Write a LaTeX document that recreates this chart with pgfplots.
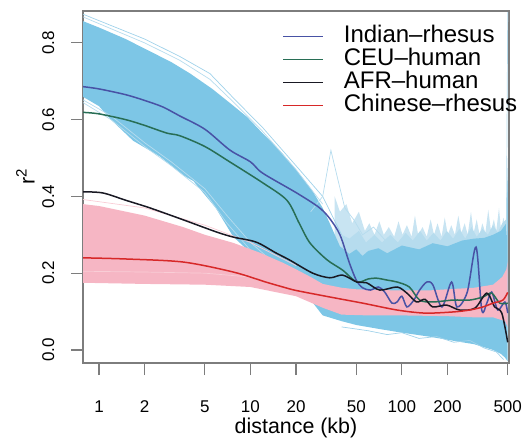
\documentclass[border=0pt]{standalone}
\usepackage{fontspec}
\setmainfont{Liberation Sans}
\usepackage{pgfplots}
\pgfplotsset{compat=1.18}
\definecolor{skyb}{RGB}{125,198,230}
\definecolor{skyl}{RGB}{182,220,238}
\definecolor{skyx}{RGB}{200,228,242}
\definecolor{skym}{RGB}{160,210,234}
\definecolor{pinkf}{RGB}{246,182,196}
\definecolor{pinkl}{RGB}{249,205,214}
\definecolor{indian}{RGB}{72,82,165}
\definecolor{ceu}{RGB}{40,110,85}
\definecolor{afr}{RGB}{25,25,35}
\definecolor{chin}{RGB}{215,40,40}
\definecolor{frame}{RGB}{125,125,125}
\begin{document}
\begin{tikzpicture}
\useasboundingbox (-41.5pt,-37pt) rectangle (219.5pt,181.5pt);
\begin{axis}[
 at={(0,0)}, anchor=south west,
 scale only axis, width=213pt, height=176pt,
 xmode=log, xmin=0.784, xmax=510, ymin=-0.034, ymax=0.883,
 xtick={1,2,5,10,20,50,100,200,500},
 xticklabels={1,2,5,10,20,50,100,200,500},
 ytick={0,0.2,0.4,0.6,0.8},
 yticklabels={0.0,0.2,0.4,0.6,0.8},
 minor tick style={draw=none},
 tick align=outside, major tick length=6pt,
 xtick pos=bottom, ytick pos=left,
 axis line style={frame, line width=0.6pt},
 tick style={frame, line width=0.6pt},
 ticklabel style={font=\fontsize{8.5}{10}\selectfont},
 /pgf/number format/assume math mode=true,
 xticklabel shift=9.5pt,
 yticklabel shift=4.8pt,
 yticklabel style={rotate=90, anchor=south},
 xlabel={distance (kb)},
 xlabel style={at={(axis description cs:0.5,-0.185)}, anchor=center, font=\fontsize{10.7}{12}\selectfont},
 ylabel={r\textsuperscript{2}},
 ylabel style={at={(axis description cs:-0.135,0.53)}, anchor=center, font=\fontsize{10.7}{12}\selectfont},
 legend style={draw=none, fill=none, at={(axis description cs:0.467,0.962)}, anchor=north west,
   font=\fontsize{12}{12}\selectfont, inner sep=0pt, column sep=10pt, row sep=0pt,
   nodes={inner sep=0pt, text height=9pt, text depth=2.5pt}},
 legend cell align=left,
 legend image code/.code={\draw[#1] (0pt,0pt) -- (20pt,0pt);},
]
% faint textured region of blue simulations (right part)
\addplot[forget plot, draw=none, fill=skyx] coordinates {
(36,0.40) (39,0.36) (43,0.38) (47,0.33) (52,0.36) (57,0.31) (61,0.33) (66,0.30) (71,0.335) (76,0.30) (82,0.32) (89,0.295) (95,0.335) (101,0.3) (108,0.325) (116,0.295) (122,0.35) (128,0.3) (137,0.32) (146,0.295) (155,0.34) (163,0.3) (172,0.33) (183,0.295) (192,0.345) (201,0.3) (212,0.325) (224,0.3) (236,0.35) (247,0.305) (260,0.33) (272,0.3) (286,0.36) (298,0.305) (312,0.34) (326,0.3) (340,0.33) (356,0.305) (372,0.365) (388,0.31) (405,0.34) (420,0.31) (438,0.37) (452,0.31) (468,0.345) (482,0.32) (496,0.38) (500,0.4)
(500,0.1) (36,0.1)} -- cycle;
\addplot[forget plot, draw=none, fill=skyl] coordinates {
(40,0.3) (45,0.29) (52,0.31) (58,0.28) (66,0.3) (74,0.28) (84,0.3) (94,0.28) (106,0.305) (118,0.285) (132,0.31) (146,0.285) (162,0.305) (180,0.285) (198,0.31) (218,0.29) (240,0.315) (262,0.29) (288,0.32) (312,0.295) (340,0.315) (370,0.3) (400,0.325) (430,0.305) (460,0.33) (490,0.34) (500,0.45)
(500,0.1) (40,0.1)} -- cycle;
% blue simulation envelope
\addplot[forget plot, draw=none, fill=skyb] coordinates {
(0.78,0.857) (1,0.84) (1.5,0.81) (2,0.785) (3,0.75) (4,0.72) (5.6,0.68) (7.5,0.64) (9.5,0.607) (12,0.565) (15.6,0.52) (20,0.47) (25.8,0.413) (30,0.37) (33.4,0.33) (39,0.27) (45,0.25) (50,0.262) (55,0.245) (60,0.258) (70,0.265) (80,0.252) (100,0.272) (130,0.262) (160,0.278) (200,0.27) (250,0.285) (300,0.29) (350,0.292) (400,0.3) (450,0.31) (490,0.33) (500,0.5)
(500,-0.03) (480,-0.02) (450,-0.01) (400,0.0) (300,0.015) (250,0.02) (150,0.035) (100,0.045) (70,0.055) (50,0.065) (40,0.075) (30,0.09) (25,0.13) (20,0.17) (16.4,0.2) (13.4,0.228) (9.9,0.255) (7.7,0.295) (5.9,0.37) (4.2,0.44) (3.6,0.455) (2.5,0.505) (1.68,0.545) (1.2,0.60) (1,0.635) (0.78,0.66)
} -- cycle;
% light blue outlying simulations
\addplot[forget plot, skym, line width=0.35pt] coordinates {(0.78,0.875) (2,0.81) (3.4,0.765) (5.4,0.72) (8,0.65) (12,0.58) (20,0.48) (30,0.4) (40,0.3)};
\addplot[forget plot, skyl, line width=0.35pt] coordinates {(0.78,0.868) (2,0.8) (3.4,0.755) (5.4,0.705) (8,0.64) (12,0.57) (20,0.47) (30,0.38)};
\addplot[forget plot, skyl, line width=0.35pt] coordinates {(25,0.36) (30,0.4) (34,0.52) (38,0.44) (42,0.37) (48,0.34) (55,0.3) (65,0.32) (80,0.28)};
\addplot[forget plot, skyl, line width=0.35pt] coordinates {(490,0.3) (500,0.88)};
\addplot[forget plot, skyl, line width=0.35pt] coordinates {(0.78,0.645) (1.2,0.6) (2,0.53) (3,0.48) (5,0.41) (7,0.33) (10,0.26)};
\addplot[forget plot, skyl, line width=0.35pt] coordinates {(0.78,0.652) (1.2,0.61) (2,0.54) (3,0.49) (5,0.42) (7,0.35) (10,0.28) (15,0.22)};
\addplot[forget plot, skym, line width=0.35pt] coordinates {(40,0.06) (60,0.05) (80,0.04) (100,0.045) (130,0.03) (170,0.035) (220,0.02) (280,0.025) (350,0.005) (420,-0.005) (470,-0.025)};
% pink simulation envelope
\addplot[forget plot, draw=none, fill=pinkf] coordinates {
(0.78,0.38) (1,0.375) (2,0.35) (3.6,0.32) (5,0.3) (7.7,0.279) (11.6,0.253) (16.4,0.227) (20,0.21) (25,0.19) (30,0.172) (40,0.162) (50,0.158) (70,0.156) (100,0.155) (150,0.155) (200,0.158) (300,0.162) (400,0.17) (460,0.19) (490,0.21) (500,0.23)
(500,0.06) (480,0.075) (400,0.085) (300,0.085) (200,0.088) (100,0.09) (60,0.09) (40,0.092) (30,0.11) (20,0.14) (10,0.164) (5,0.17) (2,0.172) (0.78,0.175)
} -- cycle;
\addplot[forget plot, pinkl, line width=0.35pt] coordinates {(0.78,0.392) (2,0.37) (5,0.325) (10,0.28) (20,0.22)};
\addplot[forget plot, pinkl, line width=0.35pt] coordinates {(0.78,0.205) (2,0.203) (5,0.2) (10,0.19)};
% observed curves
\addplot[indian, line width=0.75pt, smooth] coordinates {
(0.78,0.686) (1,0.68) (1.5,0.665) (2,0.65) (2.64,0.633) (3.4,0.61) (5,0.575) (7.3,0.521) (10,0.49) (12,0.461) (20,0.41) (28,0.373) (33,0.345) (39,0.30) (45,0.227) (50,0.182) (55,0.162) (62,0.156) (70,0.164) (77,0.151) (86,0.122) (93,0.125) (100,0.14) (108,0.112) (120,0.13) (131,0.156) (146,0.177) (160,0.17) (184,0.112) (213,0.177) (231,0.112) (270,0.15) (309,0.268) (337,0.104) (364,0.122) (392,0.151) (430,0.104) (479,0.125) (500,0.096)};
\addlegendentry{Indian--rhesus}
\addplot[ceu, line width=0.75pt, smooth] coordinates {
(0.78,0.619) (1,0.615) (1.5,0.6) (2,0.585) (2.8,0.565) (3.42,0.558) (5,0.53) (7.3,0.49) (12.1,0.435) (17.4,0.39) (21,0.33) (24.7,0.279) (32,0.235) (40.6,0.208) (50.4,0.177) (60,0.185) (68,0.187) (80,0.182) (93,0.177) (112,0.164) (131,0.13) (160,0.125) (218,0.13) (281,0.13) (343,0.138) (392,0.148) (443,0.122) (500,0.122)};
\addlegendentry{CEU--human}
\addplot[afr, line width=0.75pt, smooth] coordinates {
(0.78,0.412) (1.06,0.409) (1.5,0.39) (2.17,0.37) (3.6,0.339) (5.9,0.308) (7.7,0.294) (10.9,0.281) (14.7,0.253) (18.2,0.234) (25.8,0.2) (33.4,0.188) (40.6,0.195) (50.4,0.177) (58.5,0.175) (71.5,0.156) (93,0.164) (108,0.148) (125,0.125) (142,0.132) (160,0.112) (197,0.117) (241,0.104) (304,0.109) (364,0.148) (410,0.112) (457,0.096) (500,0.02)};
\addlegendentry{AFR--human}
\addplot[chin, line width=0.75pt, smooth] coordinates {
(0.78,0.24) (1.5,0.237) (3.6,0.229) (7.7,0.203) (12.6,0.177) (16.4,0.164) (20,0.155) (33.4,0.138) (55,0.122) (93,0.104) (142,0.096) (218,0.099) (280,0.104) (343,0.112) (400,0.122) (465,0.13) (500,0.15)};
\addlegendentry{Chinese--rhesus}
\end{axis}
\end{tikzpicture}
\end{document}
